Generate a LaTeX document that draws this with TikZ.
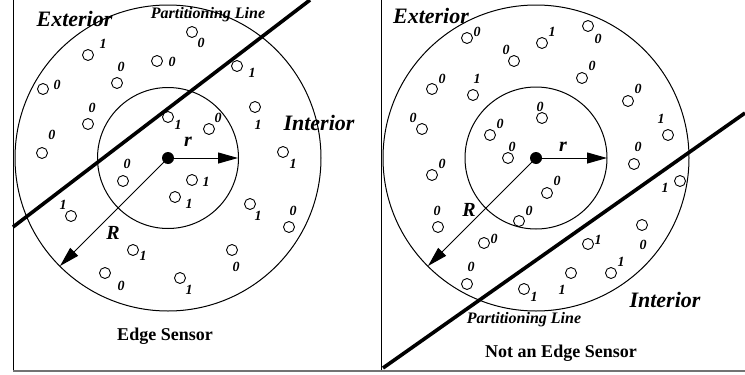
\documentclass[tikz,border=0pt]{standalone}
\usepackage{fontspec}
\setmainfont{Liberation Serif}
\usetikzlibrary{arrows.meta}
\begin{document}
\begin{tikzpicture}[x=1pt,y=-1pt,
  sensor/.style={circle,draw,line width=0.9pt,minimum size=11pt,inner sep=0pt},
  digit/.style={font=\fontsize{14}{14}\selectfont\bfseries\itshape,inner sep=0pt},
  region/.style={font=\fontsize{22}{22}\selectfont\bfseries\itshape,inner sep=0pt},
  radlabel/.style={font=\fontsize{20}{20}\selectfont\bfseries\itshape,inner sep=0pt},
  partlabel/.style={font=\fontsize{16}{16}\selectfont\bfseries\itshape,inner sep=0pt},
  caption/.style={font=\fontsize{18}{18}\selectfont\bfseries,inner sep=0pt},
  ring/.style={circle,draw,line width=1pt,inner sep=0pt},
  dot/.style={circle,fill,minimum size=12pt,inner sep=0pt},
  arr/.style={line width=1pt,-{Triangle[length=20pt,width=11pt]}},
  part/.style={line width=3.6pt},
  frame/.style={line width=1pt},
  base/.style={line width=2.5pt,black!55}]
\useasboundingbox (0,0) rectangle (745,375);
% frames
\coordinate (b1) at (13,0);
\coordinate (b2) at (13,371);
\coordinate (b3) at (381,0);
\coordinate (b4) at (381,371);
\coordinate (b5) at (745,371);
\draw[frame] (b1) -- (b2);
\draw[frame] (b3) -- (b4);
\draw[base] (b2) -- (b5);

% ===== left panel =====
\node[ring,minimum size=306pt] (lo) at (168,158) {};
\node[ring,minimum size=141pt] (li) at (168,158) {};
\node[dot] (lc) at (168,158) {};
\coordinate (lrt) at (238,158);
\coordinate (lRt) at (60,266);
\draw[arr] (lc.center) -- (lrt);
\draw[arr] (lc.center) -- (lRt);
\node[radlabel] (lr) at (188,142) {r};
\node[radlabel] (lR) at (113,233) {R};
\coordinate (lp1) at (13,227);
\coordinate (lp2) at (310,0);
\draw[part] (lp1) -- (lp2);
\foreach \x/\y/\lx/\ly/\t [count=\i] in {
 88/55/103/44/1, 117/83/121/67/0, 157/61/172/62/0, 43/89/57/85/0,
 88/124/92/108/0, 42/153/52/135/0, 168/117/178/125/1, 123/181/127/164/0,
 192/32/201/43/0, 237/66/252/73/1, 255/107/258/125/1, 209/129/218/118/0,
 283/152/293/164/1, 192/180/206/182/1, 175/197/189/204/1, 250/204/258/216/1,
 71/216/63/205/1, 133/250/143/256/1, 105/273/121/286/0, 180/278/189/290/1,
 289/227/293/211/0, 232/250/236/267/0}
{
  \node[sensor] (ls\i) at (\x,\y) {};
  \node[digit] (lt\i) at (\lx,\ly) {\t};
}
\node[region] (lext) at (74.5,19) {Exterior};
\node[region] (lint) at (319,123) {Interior};
\node[partlabel] (lpl) at (208,15) {Partitioning Line};
\node[caption] (lcap) at (165,336) {Edge Sensor};

% ===== right panel =====
\node[ring,minimum size=306pt] (ro) at (536,158) {};
\node[ring,minimum size=142pt] (ri) at (536,158) {};
\node[dot] (rc) at (536,158) {};
\coordinate (rrt) at (607,158);
\coordinate (rRt) at (428,266);
\draw[arr] (rc.center) -- (rrt);
\draw[arr] (rc.center) -- (rRt);
\node[radlabel] (rr) at (563,147) {r};
\node[radlabel] (rR) at (469,210) {R};
\coordinate (rp1) at (383,368);
\coordinate (rp2) at (745,113);
\draw[part] (rp1) -- (rp2);
\foreach \x/\y/\lx/\ly/\t [count=\i] in {
 467/38/477/32/0, 542/43/552/32/1, 514/61/506/50/0, 432/89/442/79/0,
 473/95/477/79/1, 422/129/413/118/0, 542/118/540/107/0, 490/135/500/124/0,
 508/158/512/147/0, 432/175/442/164/0, 547/193/557/181/0, 519/221/529/211/0,
 588/26/598/39/0, 582/78/592/66/0, 628/101/638/89/0, 668/135/661/119/1,
 634/164/638/147/0, 680/181/665/188/1, 642/225/643/245/0, 588/244/598/240/1,
 571/273/562/290/1, 611/273/621/262/1, 438/227/437/211/0, 484/243/494/239/0,
 467/284/471/267/0, 524/289/534/297/1}
{
  \node[sensor] (rs\i) at (\x,\y) {};
  \node[digit] (rt\i) at (\lx,\ly) {\t};
}
\node[region] (rext) at (431,16) {Exterior};
\node[region] (rint) at (665,300) {Interior};
\node[partlabel] (rpl) at (524,320) {Partitioning Line};
\node[caption] (rcap) at (561,353) {Not an Edge Sensor};
\end{tikzpicture}
\end{document}
